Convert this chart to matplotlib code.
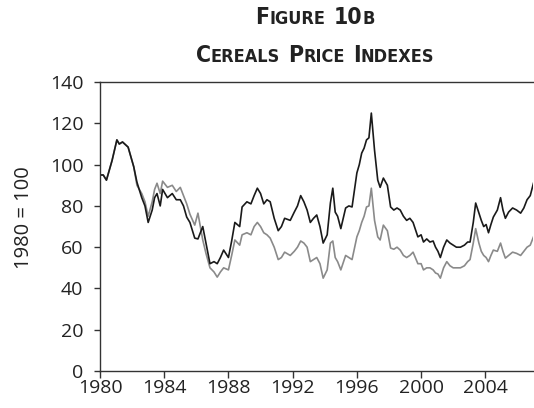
import matplotlib
matplotlib.use("Agg")
import matplotlib.pyplot as plt
from matplotlib.offsetbox import TextArea, HPacker, VPacker, AnnotationBbox

# decimal years for both series
years = [
    1980.0, 1980.2, 1980.4, 1980.75, 1981.05, 1981.2, 1981.4, 1981.75, 1982.1, 1982.3,
    1982.6, 1982.8, 1983.0, 1983.25, 1983.4, 1983.55, 1983.75, 1983.9, 1984.2, 1984.5,
    1984.75, 1985.0, 1985.2, 1985.4, 1985.6, 1985.9, 1986.1, 1986.4, 1986.6, 1986.85,
    1987.1, 1987.3, 1987.5, 1987.7, 1988.0, 1988.2, 1988.4, 1988.7, 1988.85, 1989.15,
    1989.4, 1989.6, 1989.8, 1990.0, 1990.2, 1990.4, 1990.6, 1990.85, 1991.1, 1991.3,
    1991.5, 1991.85, 1992.1, 1992.3, 1992.5, 1992.7, 1992.9, 1993.1, 1993.3, 1993.5,
    1993.7, 1993.9, 1994.15, 1994.35, 1994.5, 1994.65, 1994.8, 1995.0, 1995.3, 1995.5,
    1995.7, 1996.0, 1996.15, 1996.3, 1996.45, 1996.6, 1996.75, 1996.9, 1997.1, 1997.3,
    1997.45, 1997.65, 1997.9, 1998.1, 1998.3, 1998.5, 1998.7, 1998.9, 1999.1, 1999.3,
    1999.5, 1999.8, 2000.0, 2000.15, 2000.35, 2000.55, 2000.75, 2000.9, 2001.05, 2001.2,
    2001.4, 2001.6, 2001.8, 2002.0, 2002.2, 2002.45, 2002.7, 2002.9, 2003.05, 2003.25,
    2003.4, 2003.6, 2003.75, 2003.9, 2004.05, 2004.2, 2004.35, 2004.5, 2004.75, 2004.95,
    2005.1, 2005.25, 2005.45, 2005.7, 2005.95, 2006.2, 2006.4, 2006.6, 2006.8, 2007.0,
]

# black line
nominal = [
    95, 95, 92.5, 102, 112, 110, 111, 108.5, 99, 91.5,
    84, 80, 72, 78, 84, 86, 80, 88, 84, 86,
    83, 83, 80, 74.6, 72, 64.4, 64, 70, 62, 52,
    53, 52, 55, 58.6, 55, 63, 72, 70, 79.5, 82,
    81, 85, 88.6, 86, 81, 83, 82, 74, 68, 70,
    74, 73, 77, 80, 85, 82, 78, 72, 74, 75.6,
    70, 62, 66, 81.4, 88.6, 77, 75, 69, 79, 80,
    79.5, 96, 100, 105.6, 108, 112, 113, 125, 107, 92.5,
    89, 93.5, 90, 79.5, 78, 79, 78, 75, 73, 74,
    72, 65, 66, 62.5, 64, 62.5, 63, 60, 58, 55,
    60, 63.5, 62, 61, 60, 60, 61, 62.5, 62.5, 72,
    81.4, 76.5, 73, 70, 71, 67, 71, 74.6, 78, 84,
    78, 74, 77, 79, 78, 76.5, 79, 83, 85, 91,
]

# grey line
real = [
    95, 95, 92.5, 102, 112, 110, 111, 108.5, 99, 90,
    86, 82, 75, 82, 88, 91, 86, 92, 89, 90,
    87, 89, 85, 81, 76, 70.7, 76.5, 63.5, 57, 50,
    48, 45.5, 48, 50, 49, 56, 63.5, 61, 66, 67,
    66, 70, 72, 70, 67, 66, 64.4, 60, 54, 55,
    57.6, 56, 58, 60, 63, 62, 60, 53, 54, 55,
    52, 45, 49, 62, 63, 55, 53, 49, 56, 55,
    54, 65, 68, 72, 75, 79.5, 80, 88.6, 73, 65,
    63.5, 70.7, 68, 59.6, 59, 60, 58.6, 56, 55, 56,
    57.6, 52, 52, 49, 50, 50, 49, 47.5, 47, 45,
    50, 53, 51, 50, 50, 50, 51, 53, 54, 62,
    69, 62, 58, 56, 55, 53, 56, 58.6, 58, 62,
    58, 54.7, 56, 57.6, 57, 56, 58, 60, 61, 65,
]

x_ticks = [1980, 1984, 1988, 1992, 1996, 2000, 2004]
y_ticks = [0, 20, 40, 60, 80, 100, 120, 140]

plt.rcParams["font.family"] = ["Open Sans", "DejaVu Sans"]

fig = plt.figure(figsize=(5.34, 4.08), dpi=100)
ax = fig.add_axes([0.1873, 0.0907, 0.8117, 0.708])

ax.plot(years, real, color="#8a8a8a", lw=1.2)
ax.plot(years, nominal, color="#1a1a1a", lw=1.2)

ax.set_xlim(1980, 2007)
ax.set_ylim(0, 140)
ax.set_xticks(x_ticks)
ax.set_yticks(y_ticks)
ax.tick_params(direction="out", width=1, colors="#333333",
               labelsize=14, labelcolor="#222222")
ax.tick_params(axis="x", length=5, pad=1)
ax.tick_params(axis="y", length=4, pad=8)
for side in ["left", "bottom", "top"]:
    ax.spines[side].set_color("#333333")
    ax.spines[side].set_linewidth(1)
ax.spines["right"].set_visible(False)

fig.text(0.045, 0.466, "1980 = 100", rotation=90, ha="center", va="center",
         fontsize=14.5, color="#222222")


def small_caps(text, big=16.5, small=13):
    # fake small caps: capitals keep size, lowercase gets a smaller size
    parts = []
    for word in text.split(" "):
        chunks = []
        for ch in word:
            big_ch = ch.isupper() or ch.isdigit()
            if chunks and chunks[-1][1] == big_ch:
                chunks[-1][0] += ch
            else:
                chunks.append([ch, big_ch])
        boxes = [TextArea(c.upper(), textprops=dict(
            fontsize=big if b else small, fontweight="bold",
            fontstretch="condensed", color="#222222",
            family=["DejaVu Sans"])) for c, b in chunks]
        parts.append(HPacker(children=boxes, align="baseline", pad=0, sep=0))
    return HPacker(children=parts, align="baseline", pad=0, sep=6)


title = VPacker(children=[small_caps("Figure 10b"),
                          small_caps("Cereals Price Indexes")],
                align="center", pad=0, sep=11)
ab = AnnotationBbox(title, (0.59, 0.985), xycoords="figure fraction",
                    box_alignment=(0.5, 1.0), frameon=False)
fig.add_artist(ab)

fig.savefig("out.png", dpi=100)
